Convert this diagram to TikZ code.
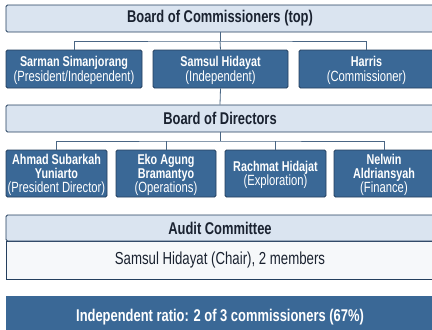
\documentclass[tikz,border=0pt]{standalone}
\usepackage{fontspec}
\setmainfont{Liberation Sans}[FakeStretch=0.76]
\definecolor{edgecol}{HTML}{243F5E}
\definecolor{headfill}{HTML}{DAE4F0}
\definecolor{bluefill}{HTML}{3A6896}
\definecolor{bodyfill}{HTML}{F6F8FA}
\definecolor{linkcol}{HTML}{4A6684}
\definecolor{darktext}{HTML}{1A2230}
\newcommand{\rolefont}{\fontsize{14.8}{15.5}\selectfont\mdseries}
\begin{document}
\begin{tikzpicture}[x=1pt,y=-1pt,
  headbox/.style={draw=edgecol, fill=headfill, line width=0.9pt, rounded corners=1.5pt,
    inner sep=0pt, minimum width=428pt, minimum height=27pt, text=darktext,
    font=\fontsize{17}{18}\selectfont\bfseries},
  personbox/.style={draw=edgecol, fill=bluefill, line width=0.9pt, rounded corners=1.5pt,
    inner sep=0pt, text=white, align=center},
  commbox/.style={personbox, minimum height=38pt, text depth=-1.9pt,
    font=\fontsize{14.2}{15.5}\selectfont\bfseries},
  dirbox/.style={personbox, minimum height=47pt, text depth=-2.9pt,
    font=\fontsize{14.2}{14}\selectfont\bfseries},
  link/.style={draw=linkcol, line width=0.8pt},
]
\useasboundingbox (0,0) rectangle (432,330);
\fill[white] (0,0) rectangle (432,330);
\clip (0,0) rectangle (432,330);

% Board of Commissioners
\node[headbox] (boc) at (220,18.5) {Board of Commissioners (top)};
\node[commbox, minimum width=136pt] (c1) at (74,69)
  {Sarman Simanjorang\\ \rolefont(President/Independent)};
\node[commbox, minimum width=135pt] (c2) at (220.5,69)
  {Samsul Hidayat\\ \rolefont(Independent)};
\node[commbox, minimum width=135pt] (c3) at (366.5,69)
  {Harris\\ \rolefont(Commissioner)};

% Board of Directors
\node[headbox] (bod) at (220,118.5) {Board of Directors};
\node[dirbox, minimum width=101pt] (d1) at (56.5,173.5)
  {Ahmad Subarkah\\ Yuniarto\\ \rolefont(President Director)};
\node[dirbox, minimum width=100pt] (d2) at (166,173.5)
  {Eko Agung\\ Bramantyo\\ \rolefont(Operations)};
\node[dirbox, minimum width=101pt] (d3) at (275.5,173.5)
  {Rachmat Hidajat\\ \rolefont(Exploration)};
\node[dirbox, minimum width=100pt] (d4) at (384,173.5)
  {Nelwin\\ Aldriansyah\\ \rolefont(Finance)};

% Audit Committee
\node[draw=edgecol, fill=bodyfill, line width=0.9pt, inner sep=0pt,
  minimum width=428pt, minimum height=38pt, text=darktext,
  font=\fontsize{17.4}{18}\selectfont] (abody) at (220,260)
  {Samsul Hidayat (Chair), 2 members};
\node[headbox, minimum height=26pt] (ahead) at (220,228) {Audit Committee};

% Independence summary
\node[fill=bluefill, inner sep=0pt, minimum width=428pt, minimum height=42pt,
  text=white, font=\fontsize{17}{18}\selectfont\bfseries] (ratio) at (220,317)
  {Independent ratio: 2 of 3 commissioners (67\%)};

% Connectors
\coordinate (bus1) at (220,41);
\draw[link] (boc.south) -- (bus1);
\draw[link] (c1.north) |- (bus1) -| (c3.north);
\draw[link] (bus1) -- (c2.north);
\draw[link] (c2.south) -- (bod.north);
\coordinate (bus2) at (220,141);
\draw[link] (bod.south) -- (bus2);
\draw[link] (d1.north) |- (bus2) -| (d4.north);
\draw[link] (d2.north) -- (d2.north |- bus2);
\draw[link] (d3.north) -- (d3.north |- bus2);
\end{tikzpicture}
\end{document}
